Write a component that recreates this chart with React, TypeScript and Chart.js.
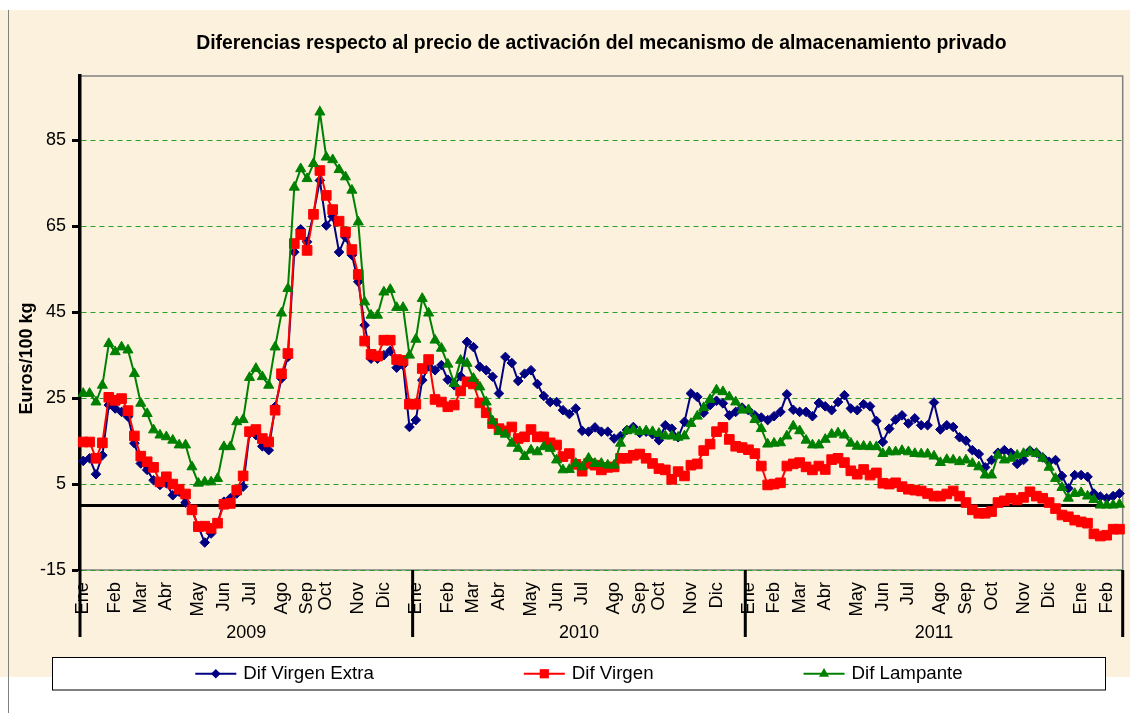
import React, { useEffect, useRef } from 'react';
import { Chart, registerables } from 'chart.js';

Chart.register(...registerables);

// ---- Data (weekly values, Euros/100 kg) ----
const virgenExtra = [
  10.4, 11.0, 7.3, 11.7, 23.4, 22.6, 21.8, 20.7, 14.5, 9.8,
  8.3, 5.9, 4.8, 5.2, 2.4, 3.2, 0.7, -1.0, -4.9, -8.6,
  -6.5, -4.1, 0.9, 1.7, 2.8, 4.4, 16.8, 16.4, 13.8, 12.9,
  23.0, 29.6, 34.6, 59.0, 64.3, 61.4, 67.9, 75.7, 65.2, 67.3,
  59.0, 62.5, 58.3, 52.1, 42.0, 34.2, 34.2, 35.0, 36.0, 32.1,
  32.7, 18.3, 19.9, 29.2, 32.4, 31.5, 32.7, 29.3, 28.0, 30.1,
  38.1, 36.9, 32.3, 31.5, 30.0, 26.1, 34.6, 33.2, 29.0, 30.7,
  31.5, 28.3, 25.5, 24.1, 24.1, 22.2, 21.3, 22.6, 17.4, 17.2,
  18.2, 17.2, 17.2, 15.6, 16.2, 17.6, 18.3, 16.9, 17.2, 16.6,
  15.2, 18.7, 17.9, 15.9, 19.5, 26.1, 25.3, 21.6, 23.4, 24.4,
  23.8, 21.0, 21.8, 22.8, 22.2, 21.0, 20.5, 19.9, 20.8, 21.8,
  25.9, 22.3, 21.8, 21.8, 20.8, 23.9, 23.1, 22.2, 24.1, 25.7,
  22.6, 22.2, 23.6, 23.1, 19.7, 14.8, 17.9, 20.0, 21.0, 19.1,
  20.3, 18.7, 18.7, 24.0, 17.7, 18.7, 18.3, 15.9, 15.1, 12.9,
  12.0, 8.9, 10.6, 12.3, 12.9, 12.3, 9.7, 10.6, 12.8, 12.3,
  11.2, 10.2, 10.6, 6.9, 4.0, 7.1, 7.1, 6.7, 2.8, 2.1,
  1.7, 2.2, 2.8,
];

const virgen = [
  14.8, 14.8, 11.0, 14.6, 25.2, 24.5, 24.9, 22.1, 16.2, 11.5,
  10.2, 8.9, 5.5, 6.7, 5.0, 3.8, 2.7, -1.0, -4.9, -4.8,
  -5.3, -4.1, 0.3, 0.5, 3.6, 6.9, 17.2, 17.7, 15.6, 14.8,
  22.2, 30.7, 35.4, 61.0, 63.1, 59.4, 67.8, 78.0, 72.2, 68.9,
  66.2, 63.7, 59.6, 53.8, 38.3, 35.2, 34.8, 38.5, 38.5, 34.0,
  33.8, 23.6, 23.6, 31.9, 34.0, 24.7, 24.1, 23.0, 23.4, 26.7,
  28.8, 28.3, 23.9, 21.6, 19.1, 17.9, 17.4, 18.3, 15.6, 16.0,
  17.7, 16.0, 16.0, 14.6, 14.1, 11.4, 12.1, 9.6, 8.0, 9.8,
  9.4, 8.3, 8.9, 9.0, 11.0, 11.0, 11.7, 12.0, 11.0, 9.8,
  8.6, 8.3, 6.1, 7.9, 6.9, 9.4, 9.7, 12.8, 14.3, 17.2,
  18.2, 15.4, 13.8, 13.5, 13.0, 12.1, 9.2, 4.8, 5.0, 5.3,
  9.2, 9.7, 10.0, 9.0, 8.3, 9.2, 8.4, 10.7, 11.0, 10.0,
  8.1, 7.3, 8.4, 7.1, 7.6, 5.2, 5.0, 5.3, 4.4, 3.8,
  3.6, 3.4, 2.8, 2.2, 2.2, 2.7, 3.4, 2.2, 0.7, -1.0,
  -1.8, -1.8, -1.4, 0.7, 1.1, 1.7, 1.3, 1.9, 3.2, 2.2,
  1.7, 0.7, -0.7, -2.2, -2.6, -3.4, -3.8, -4.1, -6.6, -7.1,
  -6.9, -5.5, -5.5,
];

const lampante = [
  26.1, 26.1, 24.1, 28.0, 37.7, 35.8, 36.9, 36.2, 30.7, 23.8,
  21.4, 17.6, 16.4, 16.0, 15.2, 14.1, 14.1, 9.0, 5.2, 5.5,
  5.5, 6.3, 13.7, 13.7, 19.5, 20.0, 29.8, 31.9, 30.0, 28.0,
  36.9, 44.8, 50.5, 74.1, 78.4, 76.1, 79.6, 91.6, 81.1, 80.5,
  78.2, 76.5, 73.4, 66.0, 47.4, 44.3, 44.3, 49.7, 50.3, 46.1,
  46.1, 35.0, 38.7, 48.2, 44.8, 38.5, 36.6, 32.9, 28.4, 33.8,
  33.1, 29.6, 27.6, 24.1, 19.7, 17.2, 16.6, 14.5, 13.3, 11.4,
  12.9, 12.5, 13.7, 13.3, 10.6, 8.3, 8.4, 9.8, 9.0, 11.0,
  9.8, 9.8, 9.4, 9.4, 14.5, 17.4, 17.6, 17.2, 17.4, 17.2,
  16.8, 16.2, 16.2, 15.9, 16.2, 19.1, 20.8, 22.8, 24.7, 26.9,
  26.5, 25.3, 24.1, 22.2, 22.3, 20.0, 17.9, 14.3, 14.5, 14.6,
  16.2, 18.5, 17.4, 15.2, 14.1, 14.1, 15.4, 16.6, 16.9, 16.4,
  14.5, 13.8, 13.8, 13.7, 13.7, 12.1, 12.5, 12.5, 12.8, 12.5,
  12.1, 12.0, 12.0, 11.5, 10.0, 10.7, 10.6, 10.2, 10.6, 9.8,
  9.0, 7.1, 7.1, 11.7, 10.6, 11.0, 11.7, 12.1, 12.5, 12.1,
  11.0, 8.9, 6.3, 4.2, 1.7, 2.8, 3.0, 2.2, 1.4, 0.1,
  0.1, 0.1, 0.3,
];

// ---- Axis labels ----
const monthTickIndex = [
  0, 5, 9, 13, 18, 22, 26, 31, 35, 38, 43, 47,
  52, 57, 61, 65, 70, 74, 78, 83, 87, 90, 95, 99,
  104, 108, 112, 116, 121, 125, 129, 134, 138, 142, 147, 151, 156, 160,
];
const monthTickText = [
  'Ene', 'Feb', 'Mar', 'Abr', 'May', 'Jun', 'Jul', 'Ago', 'Sep', 'Oct', 'Nov', 'Dic',
  'Ene', 'Feb', 'Mar', 'Abr', 'May', 'Jun', 'Jul', 'Ago', 'Sep', 'Oct', 'Nov', 'Dic',
  'Ene', 'Feb', 'Mar', 'Abr', 'May', 'Jun', 'Jul', 'Ago', 'Sep', 'Oct', 'Nov', 'Dic', 'Ene', 'Feb',
];
const yearLabels = ['2009', '2010', '2011'];
const yearStartIndex = [0, 52, 104];
const yTickValues = [-15, 5, 25, 45, 65, 85];

const TITLE = 'Diferencias respecto al precio de activación del mecanismo de almacenamiento privado';
const Y_TITLE = 'Euros/100 kg';

const FONT = "'Liberation Sans', Arial, Helvetica, sans-serif";
const BG = '#FBF1DC';
const GRID_GREEN = 'rgb(40,160,40)';

function drawMarker(ctx: CanvasRenderingContext2D, style: string, x: number, y: number, color: string) {
  ctx.fillStyle = color;
  ctx.beginPath();
  if (style === 'rectRot') {
    const r = 4.8;
    ctx.moveTo(x, y - r); ctx.lineTo(x + r, y); ctx.lineTo(x, y + r); ctx.lineTo(x - r, y);
  } else if (style === 'rect') {
    const s = 4.6;
    ctx.rect(x - s, y - s, 2 * s, 2 * s);
  } else {
    const r = 5.8;
    ctx.moveTo(x, y - r);
    ctx.lineTo(x + r * 0.866, y + r * 0.5);
    ctx.lineTo(x - r * 0.866, y + r * 0.5);
  }
  ctx.closePath();
  ctx.fill();
}

export default function App() {
  const ref = useRef<HTMLCanvasElement>(null);

  useEffect(() => {
    const canvas = ref.current;
    if (!canvas) return;
    const labels = virgenExtra.map((_, i) => {
      const k = monthTickIndex.indexOf(i);
      return k >= 0 ? monthTickText[k] : '';
    });

    const decor = {
      id: 'decor',
      beforeDraw(chart: any) {
        const { ctx, chartArea: a, width, height } = chart;
        ctx.save();
        ctx.fillStyle = '#ffffff';
        ctx.fillRect(0, 0, width, height);
        ctx.fillStyle = BG;
        ctx.fillRect(0, 10, width, 667);
        ctx.strokeStyle = '#808080';
        ctx.lineWidth = 1;
        ctx.beginPath();
        ctx.moveTo(8.5, 10);
        ctx.lineTo(8.5, height);
        ctx.stroke();
        ctx.lineWidth = 1.5;
        ctx.strokeRect(a.left, a.top, a.right - a.left, a.bottom - a.top);
        ctx.restore();
      },
      beforeDatasetsDraw(chart: any) {
        const { ctx, chartArea: a } = chart;
        const y0 = chart.scales.y.getPixelForValue(0);
        ctx.save();
        ctx.strokeStyle = '#000';
        ctx.lineWidth = 3;
        ctx.beginPath();
        ctx.moveTo(a.left, y0);
        ctx.lineTo(a.right, y0);
        ctx.stroke();
        ctx.restore();
      },
      afterDraw(chart: any) {
        const { ctx, chartArea: a } = chart;
        const xs = chart.scales.x;
        const half = (xs.getPixelForValue(1) - xs.getPixelForValue(0)) / 2;
        const bounds = yearStartIndex.map((i) => xs.getPixelForValue(i) - half).concat([a.right]);
        const sepBottom = 637;
        ctx.save();
        // year separators
        ctx.strokeStyle = '#000';
        ctx.lineWidth = 3;
        bounds.forEach((bx) => {
          ctx.beginPath();
          ctx.moveTo(bx, a.bottom);
          ctx.lineTo(bx, sepBottom);
          ctx.stroke();
        });
        // year labels
        ctx.fillStyle = '#000';
        ctx.font = `18px ${FONT}`;
        ctx.textAlign = 'center';
        ctx.textBaseline = 'middle';
        yearLabels.forEach((lab, k) => {
          ctx.fillText(lab, (bounds[k] + bounds[k + 1]) / 2, 633);
        });
        // title
        ctx.font = `bold 19.4px ${FONT}`;
        ctx.textBaseline = 'alphabetic';
        ctx.fillText(TITLE, (a.left + a.right) / 2, 49);
        // y title
        ctx.save();
        ctx.font = `bold 18px ${FONT}`;
        ctx.translate(27.5, (a.top + sepBottom) / 2 + 2);
        ctx.rotate(-Math.PI / 2);
        ctx.textBaseline = 'middle';
        ctx.fillText(Y_TITLE, 0, 0);
        ctx.restore();
        // legend
        const box = { x: 52.5, y: 657.5, w: 1053, h: 32.5 };
        ctx.fillStyle = '#ffffff';
        ctx.fillRect(box.x, box.y, box.w, box.h);
        ctx.strokeStyle = '#000';
        ctx.lineWidth = 1;
        ctx.strokeRect(box.x, box.y, box.w, box.h);
        ctx.font = `18.7px ${FONT}`;
        ctx.textAlign = 'left';
        ctx.textBaseline = 'middle';
        const lineLen = 41, textGap = 7, itemGap = 150;
        const items = chart.data.datasets.map((d: any) => ({ label: d.label, color: d.borderColor, style: d.pointStyle }));
        const widths = items.map((it: any) => lineLen + textGap + ctx.measureText(it.label).width);
        const total = widths.reduce((s: number, w: number) => s + w, 0) + itemGap * (items.length - 1);
        let x = box.x + box.w / 2 - total / 2;
        const ly = box.y + box.h / 2;
        items.forEach((it: any, k: number) => {
          ctx.strokeStyle = it.color;
          ctx.lineWidth = 2;
          ctx.beginPath();
          ctx.moveTo(x, ly);
          ctx.lineTo(x + lineLen, ly);
          ctx.stroke();
          drawMarker(ctx, it.style, x + lineLen / 2, ly, it.color);
          ctx.fillStyle = '#000';
          ctx.fillText(it.label, x + lineLen + textGap, ly);
          x += widths[k] + itemGap;
        });
        ctx.restore();
      },
    };

    const chart = new Chart(canvas, {
      type: 'line',
      data: {
        labels,
        datasets: [
          {
            label: 'Dif Virgen Extra',
            data: virgenExtra,
            borderColor: '#000080',
            backgroundColor: '#000080',
            pointStyle: 'rectRot',
            pointRadius: 4.8,
            pointBorderWidth: 1,
            borderWidth: 2,
            tension: 0,
            order: 3,
          },
          {
            label: 'Dif Virgen',
            data: virgen,
            borderColor: '#FF0000',
            backgroundColor: '#FF0000',
            pointStyle: 'rect',
            pointRadius: 6.8,
            pointBorderWidth: 1,
            borderWidth: 2,
            tension: 0,
            order: 2,
          },
          {
            label: 'Dif Lampante',
            data: lampante,
            borderColor: '#008000',
            backgroundColor: '#008000',
            pointStyle: 'triangle',
            pointRadius: 5.8,
            pointBorderWidth: 1,
            borderWidth: 2,
            tension: 0,
            order: 1,
          },
        ],
      },
      options: {
        animation: false,
        responsive: false,
        devicePixelRatio: 1,
        events: [],
        layout: { autoPadding: false, padding: { left: 9, top: 76, right: 7.3, bottom: 0 } },
        plugins: {
          legend: { display: false },
          title: { display: false },
          tooltip: { enabled: false },
        },
        scales: {
          x: {
            type: 'category',
            offset: true,
            grid: { display: false, drawTicks: false, drawOnChartArea: false },
            border: { display: false },
            ticks: {
              autoSkip: false,
              minRotation: 90,
              maxRotation: 90,
              padding: 12,
              color: '#000',
              font: { family: FONT, size: 18.3 },
            },
            afterFit: (s: any) => {
              s.height = 143;
              s.paddingLeft = 0;
              s.paddingRight = 0;
            },
          },
          y: {
            min: -15,
            max: 100,
            afterBuildTicks: (s: any) => {
              s.ticks = yTickValues.map((v) => ({ value: v }));
            },
            grid: {
              color: GRID_GREEN,
              lineWidth: 1,
              drawTicks: true,
              tickLength: 8,
              tickWidth: 3,
              tickColor: '#000',
              tickBorderDash: [],
            },
            border: { display: true, color: '#000', width: 3.5, dash: [5, 4] },
            ticks: {
              padding: 6,
              color: '#000',
              font: { family: FONT, size: 18 },
            },
            afterFit: (s: any) => {
              s.width = 71;
              s.paddingTop = 0;
              s.paddingBottom = 0;
            },
          },
        },
      },
      plugins: [decor],
    } as any);

    return () => chart.destroy();
  }, []);

  return (
    <div style={{ position: 'absolute', left: 0, top: 0, width: 1130, height: 713 }}>
      <canvas ref={ref} width={1130} height={713} style={{ display: 'block' }} />
    </div>
  );
}
